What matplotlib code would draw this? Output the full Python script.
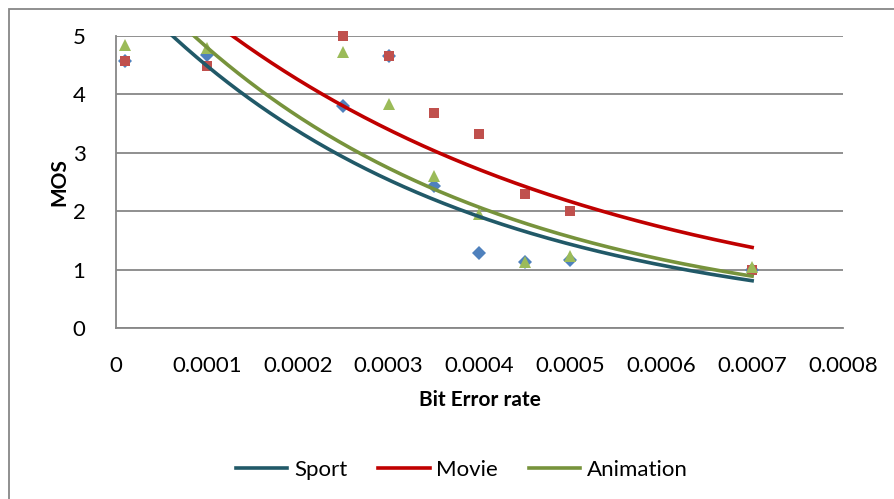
import numpy as np
import matplotlib
matplotlib.use("Agg")
import matplotlib.pyplot as plt
from matplotlib.patches import Rectangle

plt.rcParams['font.family'] = ['Lato', 'DejaVu Sans']

ber = [0.00001, 0.0001, 0.00025, 0.0003, 0.00035, 0.0004, 0.00045, 0.0005, 0.0007]
sport = [4.58, 4.67, 3.80, 4.65, 2.43, 1.28, 1.13, 1.17, 1.00]
movie = [4.58, 4.49, 5.00, 4.65, 3.68, 3.32, 2.29, 2.00, 1.00]
animation = [4.85, 4.80, 4.73, 3.84, 2.60, 1.95, 1.13, 1.23, 1.05]

series = [
    ("Sport", sport, "D", "#4F81BD", "#215968"),
    ("Movie", movie, "s", "#C0504D", "#C00000"),
    ("Animation", animation, "^", "#9BBB59", "#77933C"),
]

fig = plt.figure(figsize=(8.94, 4.99), dpi=100)
ax = fig.add_axes([116/894, 1-328/499, (843-116)/894, (328-36)/499])

# outer chart frame
fig.patches.append(Rectangle((9/894, -0.1), 1.2, 1-9/499+0.1, transform=fig.transFigure,
                             fill=False, edgecolor="#878787", linewidth=1.3))

x = np.array(ber)
xs = np.linspace(x.min(), x.max(), 300)
handles = []
for name, vals, mk, mc, lc in series:
    ax.plot(x, vals, linestyle="none", marker=mk, color=mc,
            markersize={"D": 7, "s": 7.5, "^": 9}[mk],
            markeredgewidth=0, zorder=3, clip_on=False)
for name, vals, mk, mc, lc in series:
    b, a = np.polyfit(x, np.log(vals), 1)
    h, = ax.plot(xs, np.exp(a) * np.exp(b * xs), color=lc, linewidth=2.6, label=name, zorder=4)
    handles.append(h)

ax.set_xlim(0, 0.0008)
ax.set_ylim(0, 5)
ax.set_yticks(range(0, 6))
ax.set_xticks(np.arange(0, 0.00081, 0.0001))
ax.set_xticklabels(["0", "0.0001", "0.0002", "0.0003", "0.0004", "0.0005", "0.0006", "0.0007", "0.0008"])
ax.yaxis.grid(True, color="#878787", linewidth=1.3)
ax.set_axisbelow(True)
for s in ["top", "right"]:
    ax.spines[s].set_visible(False)
for s in ["left", "bottom"]:
    ax.spines[s].set_color("#878787")
    ax.spines[s].set_linewidth(1.3)
ax.tick_params(axis="both", length=0, labelsize=16)
ax.tick_params(axis="y", pad=22)
ax.tick_params(axis="x", pad=20)

ax.set_ylabel("MOS", fontsize=15, fontweight="bold", labelpad=2)
ax.set_xlabel("Bit Error rate", fontsize=15, fontweight="bold", labelpad=10)

fig.legend(handles=handles, loc="center", bbox_to_anchor=(462/894, 1-470/499), ncol=3,
           frameon=False, fontsize=16, handlelength=2.3, columnspacing=1.4, handletextpad=0.3)

fig.savefig("out.png", dpi=100)
